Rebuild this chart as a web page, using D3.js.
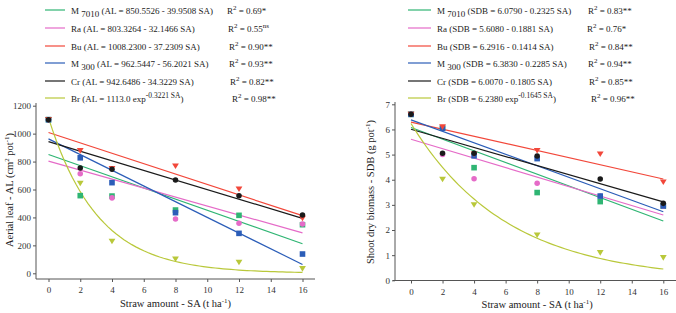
<!DOCTYPE html>
<html>
<head>
<meta charset="utf-8">
<script src="https://cdn.jsdelivr.net/npm/d3@7"></script>
<style>
  body { margin: 0; background: #fff; }
  svg text { font-family: "Liberation Serif", "Times New Roman", serif; fill: #222; }
  .axis path, .axis line { stroke: #555; }
  .axis text { font-size: 9px; fill: #333; }
</style>
</head>
<body>
<div id="chart"></div>
<script>
// straw amounts (x values)
const saValues = [0, 2, 4, 8, 12, 16];
const cultivars = ["M7010", "Ra", "Bu", "M300", "Cr", "Br"];

const alM7010 = [1100, 556, 553, 453, 415, 348];
const alRa    = [1100, 713, 540, 389, 358, 353];
const alBu    = [1100, 878, 749, 768, 603, 394];
const alM300  = [1100, 827, 649, 434, 286, 138];
const alCr    = [1100, 754, 745, 668, 556, 417];
const alBr    = [1100, 644, 229, 102, 79, 33];

// shoot dry biomass (SDB) observations
const sdbM7010 = [6.6, 6.05, 4.48, 3.49, 3.13, 2.95];
const sdbRa    = [6.6, 5.0, 4.04, 3.86, 3.35, 2.95];
const sdbBu    = [6.6, 6.1, 5.02, 5.16, 5.02, 3.91];
const sdbM300  = [6.6, 6.05, 4.95, 4.84, 3.35, 2.96];
const sdbCr    = [6.6, 5.05, 5.05, 4.94, 4.03, 3.06];
const sdbBr    = [6.6, 4.02, 3.0, 1.8, 1.1, 0.9];

// fitted models: [intercept, slope]; Br is exponential a*exp(b*SA)
const alFits  = [[850.5526, -39.9508], [803.3264, -32.1466], [1008.2300, -37.2309], [962.5447, -56.2021], [942.6486, -34.3229], [1113.0, -0.3221]];
const sdbFits = [[6.0790, -0.2325], [5.6080, -0.1881], [6.2916, -0.1414], [6.3830, -0.2285], [6.0070, -0.1805], [6.2380, -0.1645]];

const alR2   = ["0.69*", "0.55", "0.90**", "0.93**", "0.82**", "0.98**"];
const sdbR2  = ["0.83**", "0.76*", "0.84**", "0.94**", "0.85**", "0.96**"];

const xTicks = [0, 2, 4, 6, 8, 10, 12, 14, 16];
const alTicks = [0, 200, 400, 600, 800, 1000, 1200];
const sdbTicks = [0, 1, 2, 3, 4, 5, 6, 7];

const colors = {M7010: "#2fb573", Ra: "#e56bc8", Bu: "#f2473a", M300: "#2b5db8", Cr: "#1a1a1a", Br: "#b9c83a"};
const shapes = {M7010: "square", Ra: "circle", Bu: "tri", M300: "square", Cr: "circle", Br: "tri"};

const svg = d3.select("#chart").append("svg")
    .attr("width", 676)
    .attr("height", 313);

function drawPanel(p) {
    let x = d3.scaleLinear().domain([0, 16]).range(p.xRange);
    let y = d3.scaleLinear().domain(p.yDomain).range(p.yRange);
    let g = svg.append("g");

    // axes
    let xAxis = g.append("g").attr("class", "axis")
        .attr("transform", `translate(0, ${p.xAxisY})`)
        .call(d3.axisBottom(x).tickValues(xTicks).tickSize(3).tickSizeOuter(0).tickPadding(5));
    xAxis.select(".domain").remove();
    g.append("line")
        .attr("x1", p.xLine[0]).attr("x2", p.xLine[1])
        .attr("y1", p.xAxisY).attr("y2", p.xAxisY)
        .attr("stroke", "#555");

    let yAxis = g.append("g").attr("class", "axis")
        .attr("transform", `translate(${p.yAxisX}, 0)`)
        .call(d3.axisLeft(y).tickValues(p.yTicks).tickFormat(d3.format("d"))
            .tickSize(3).tickSizeOuter(0).tickPadding(2));
    yAxis.select(".domain").remove();
    g.append("line")
        .attr("x1", p.yAxisX).attr("x2", p.yAxisX)
        .attr("y1", p.xAxisY).attr("y2", p.yTop)
        .attr("stroke", "#555");

    // axis titles
    g.append("text")
        .attr("x", (p.xRange[0] + p.xRange[1]) / 2)
        .attr("y", p.xTitleY)
        .attr("text-anchor", "middle")
        .attr("font-size", "10.5px")
        .html('Straw amount - SA (t ha<tspan dy="-4" font-size="7px">-1</tspan><tspan dy="4">)</tspan>');

    g.append("text")
        .attr("transform", `translate(${p.yTitleX}, ${p.yTitleY}) rotate(-90)`)
        .attr("text-anchor", "middle")
        .attr("font-size", "10.5px")
        .html(p.yTitle);

    // fitted lines
    let line = d3.line().x(d => x(d[0])).y(d => y(d[1]));
    let grid = d3.range(0, 16.01, 0.25);
    cultivars.forEach((c, i) => {
        let f = p.fits[i];
        let pts = c === "Br"
            ? grid.map(s => [s, f[0] * Math.exp(f[1] * s)])
            : [[0, f[0]], [16, f[0] + f[1] * 16]];
        g.append("path")
            .attr("d", line(pts))
            .attr("fill", "none")
            .attr("stroke", colors[c])
            .attr("stroke-width", 1.2);
    });

    // points (drawn Br first so Cr ends on top)
    let order = ["Br", "M7010", "Ra", "M300", "Bu", "Cr"];
    order.forEach(c => {
        let vals = p.obs[cultivars.indexOf(c)];
        let pts = saValues.map((s, j) => ({sa: s, v: vals[j]}));
        let sel = g.append("g").selectAll("path").data(pts).join("path")
            .attr("fill", colors[c])
            .attr("transform", d => `translate(${x(d.sa)}, ${y(d.v)})`);
        if (shapes[c] === "square") sel.attr("d", "M-2.8,-2.8H2.8V2.8H-2.8Z");
        else if (shapes[c] === "circle") sel.attr("d", d3.symbol(d3.symbolCircle, 24)());
        else sel.attr("d", "M-3.4,-2.6H3.4L0,3Z");
    });

    // legend
    let lg = g.append("g");
    cultivars.forEach((c, i) => {
        let ly = p.legendY[i];
        lg.append("line")
            .attr("x1", p.legLine[0]).attr("x2", p.legLine[1])
            .attr("y1", ly).attr("y2", ly)
            .attr("stroke", colors[c]).attr("stroke-width", 1.2);
        lg.append("text")
            .attr("x", p.legText).attr("y", ly + 3.5)
            .attr("font-size", "9px")
            .html(p.legendLabels[i]);
        lg.append("text")
            .attr("x", p.r2X[i]).attr("y", ly + 3.5)
            .attr("font-size", "9px")
            .html(`R<tspan dy="-4" font-size="7px">2</tspan><tspan dy="4"> = ${p.r2[i]}</tspan>` + (p.ns && i === 1 ? '<tspan dy="-4" font-size="7px">ns</tspan>' : ""));
    });
}

const alLabels = [
    'M <tspan dy="3">7010</tspan><tspan dy="-3"> (AL = 850.5526 - 39.9508 SA)</tspan>',
    'Ra (AL = 803.3264 - 32.1466 SA)',
    'Bu (AL = 1008.2300 - 37.2309 SA)',
    'M <tspan dy="3">300</tspan><tspan dy="-3"> (AL = 962.5447 - 56.2021 SA)</tspan>',
    'Cr (AL = 942.6486 - 34.3229 SA)',
    'Br (AL = 1113.0 exp<tspan dy="-4" font-size="7.5px">-0.3221 SA</tspan><tspan dy="4">)</tspan>'
];
const sdbLabels = [
    'M <tspan dy="3">7010</tspan><tspan dy="-3"> (SDB = 6.0790 - 0.2325 SA)</tspan>',
    'Ra (SDB = 5.6080 - 0.1881 SA)',
    'Bu (SDB = 6.2916 - 0.1414 SA)',
    'M <tspan dy="3">300</tspan><tspan dy="-3"> (SDB = 6.3830 - 0.2285 SA)</tspan>',
    'Cr (SDB = 6.0070 - 0.1805 SA)',
    'Br (SDB = 6.2380 exp<tspan dy="-4" font-size="7.5px">-0.1645 SA</tspan><tspan dy="4">)</tspan>'
];

drawPanel({
    xRange: [48.5, 302.5], yDomain: [0, 1200], yRange: [273.3, 105.7],
    xAxisY: 279, xLine: [36, 315], yAxisX: 36, yTop: 103, yTicks: alTicks,
    xTitleY: 307, yTitleX: 13, yTitleY: 190,
    yTitle: 'Aerial leaf - AL (cm<tspan dy="-4" font-size="7px">2</tspan><tspan dy="4"> pot</tspan><tspan dy="-4" font-size="7px">-1</tspan><tspan dy="4">)</tspan>',
    obs: [alM7010, alRa, alBu, alM300, alCr, alBr], fits: alFits,
    legendY: [10, 28, 46, 63, 81, 98], legLine: [45, 65], legText: 71,
    r2X: [227, 228, 229, 229, 230, 232], r2: alR2, ns: true,
    legendLabels: alLabels
});

drawPanel({
    xRange: [411, 663.3], yDomain: [0, 7], yRange: [280.3, 104.3],
    xAxisY: 280.5, xLine: [393, 676], yAxisX: 395, yTop: 102, yTicks: sdbTicks,
    xTitleY: 308, yTitleX: 374, yTitleY: 192,
    yTitle: 'Shoot dry biomass - SDB (g pot<tspan dy="-4" font-size="7px">-1</tspan><tspan dy="4">)</tspan>',
    obs: [sdbM7010, sdbRa, sdbBu, sdbM300, sdbCr, sdbBr], fits: sdbFits,
    legendY: [10, 28, 46, 63, 81, 98], legLine: [408, 431], legText: 437,
    r2X: [588, 587, 589, 588, 589, 591], r2: sdbR2, ns: false,
    legendLabels: sdbLabels
});
</script>
</body>
</html>
